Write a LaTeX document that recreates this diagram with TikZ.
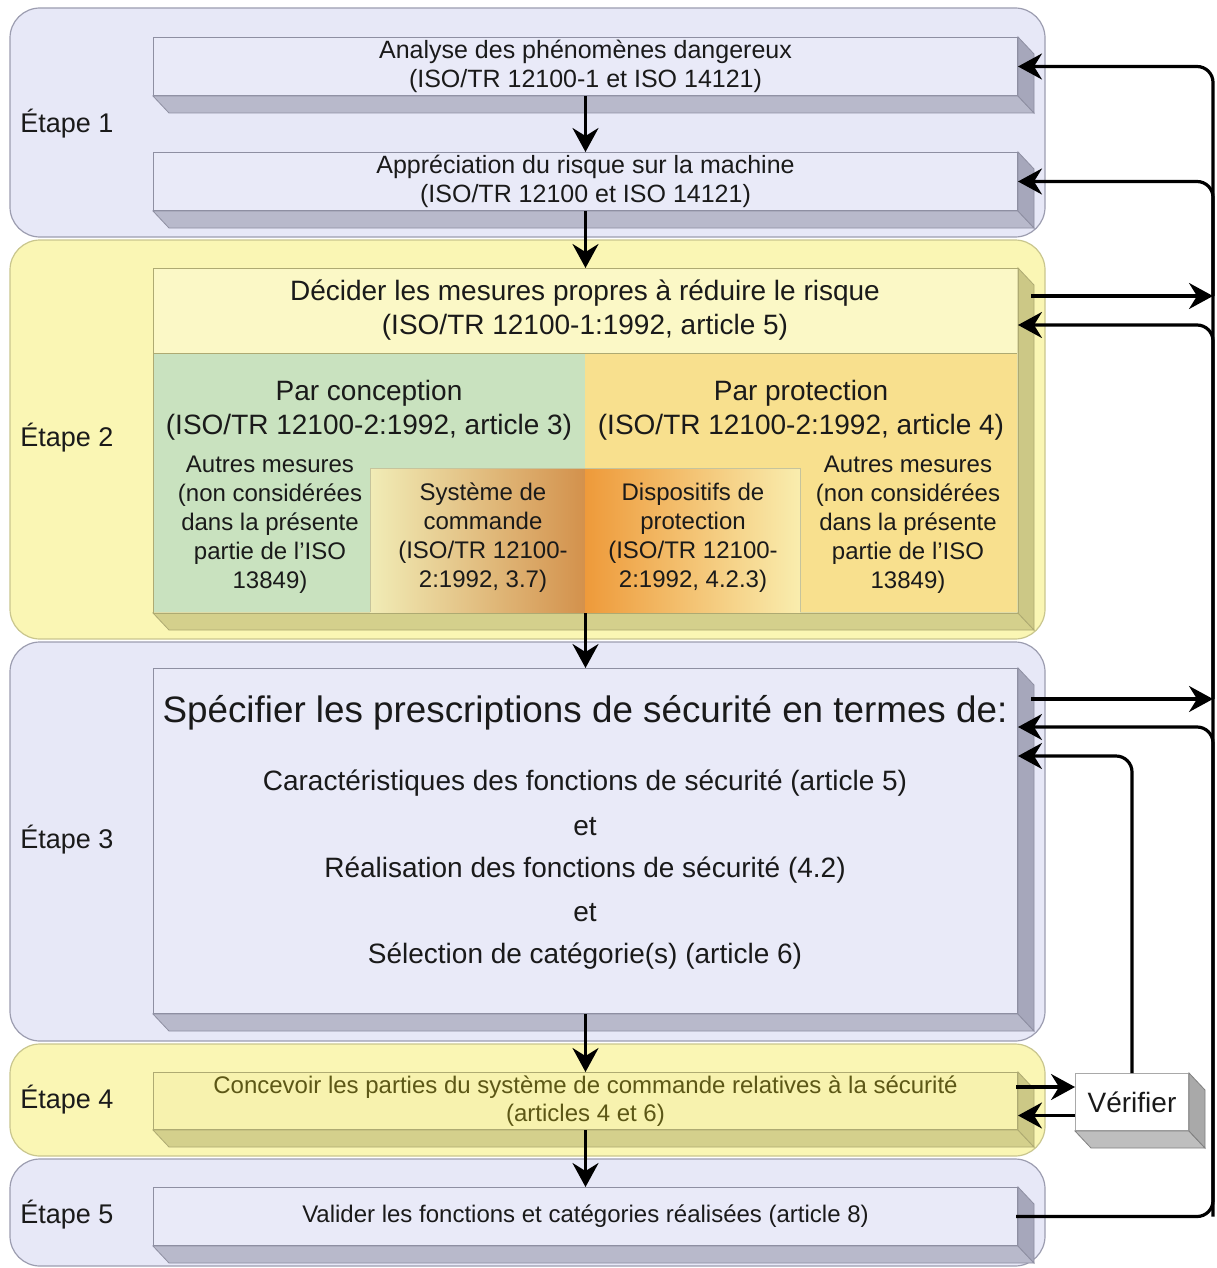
\documentclass[tikz,border=0pt]{standalone}
\usepackage{fontspec}
\setmainfont{Liberation Sans}
\usetikzlibrary{arrows.meta,calc}

\definecolor{lavfill}{HTML}{E7E8F7}
\definecolor{lavline}{HTML}{9C9DB0}
\definecolor{yelfill}{HTML}{FAF6B4}
\definecolor{yelline}{HTML}{C9C68E}
\definecolor{bluefront}{HTML}{E9EAF8}
\definecolor{bluebottom}{HTML}{B8B9CB}
\definecolor{blueside}{HTML}{A6A7BB}
\definecolor{blueedge}{HTML}{8E8FA2}
\definecolor{creamfront}{HTML}{FBF8C6}
\definecolor{olivebottom}{HTML}{D4D08C}
\definecolor{oliveside}{HTML}{CCC886}
\definecolor{oliveedge}{HTML}{AEAA72}
\definecolor{paleyel}{HTML}{F7F2AE}
\definecolor{greenpart}{HTML}{C9E2BF}
\definecolor{goldpart}{HTML}{F8E08E}
\definecolor{shadeleft}{HTML}{F1ECB6}
\definecolor{shademid}{HTML}{D3914C}
\definecolor{shadeorange}{HTML}{EE9A3A}
\definecolor{shaderight}{HTML}{F9EDAE}
\definecolor{greybottom}{HTML}{BEBEBE}
\definecolor{greyside}{HTML}{A9A9A9}
\definecolor{inktext}{HTML}{1A1A1A}
\definecolor{olivetext}{HTML}{5C5716}

\tikzset{
  panel/.style={rounded corners=15pt, line width=0.6pt},
  bluepanel/.style={panel, fill=lavfill, draw=lavline},
  yelpanel/.style={panel, fill=yelfill, draw=yelline},
  face/.style={anchor=north west, inner sep=0pt, align=center, text=inktext,
    line width=0.5pt, minimum width=432pt},
  blueface/.style={face, fill=bluefront, draw=blueedge},
  stagelabel/.style={anchor=west, inner sep=0pt, text=inktext,
    font=\fontsize{13.5}{16}\selectfont},
  txt/.style={inner sep=0pt, align=center, text=inktext},
  arr/.style={line width=1.6pt, -{Stealth[length=12pt,width=13pt,inset=4pt]}},
}

% extruded bottom and right faces of a box node
\newcommand\extrude[4]{%
  \filldraw[fill=#2, draw=#4, line width=0.4pt]
    (#1.south west) -- ++(8pt,-8.5pt) -- ($(#1.south east)+(8pt,-8.5pt)$)
    -- (#1.south east) -- cycle;
  \filldraw[fill=#3, draw=#4, line width=0.4pt]
    (#1.north east) -- ++(8pt,-8.5pt) -- ($(#1.south east)+(8pt,-8.5pt)$)
    -- (#1.south east) -- cycle;
}

\begin{document}
\begin{tikzpicture}[x=0.5pt,y=-0.5pt]
\useasboundingbox (0,0) rectangle (1216,1268);

% stage panels
\draw[bluepanel] (10,8) rectangle (1045,237);
\draw[yelpanel]  (10,240) rectangle (1045,639);
\draw[bluepanel] (10,642) rectangle (1045,1041);
\draw[yelpanel]  (10,1044) rectangle (1045,1156);
\draw[bluepanel] (10,1159) rectangle (1045,1266);

% stage labels
\node[stagelabel] (s1) at (20,124)  {Étape 1};
\node[stagelabel] (s2) at (20,438)  {Étape 2};
\node[stagelabel] (s3) at (20,840)  {Étape 3};
\node[stagelabel] (s4) at (20,1100) {Étape 4};
\node[stagelabel] (s5) at (20,1215) {Étape 5};

% stage 1
\node[blueface, minimum height=29pt, font=\fontsize{12.5}{14.5}\selectfont]
  (A) at (153,37) {Analyse des phénomènes dangereux\\(ISO/TR 12100-1 et ISO 14121)};
\extrude{A}{bluebottom}{blueside}{blueedge}
\node[blueface, minimum height=29pt, font=\fontsize{12.5}{14.5}\selectfont]
  (B) at (153,152) {Appréciation du risque sur la machine\\(ISO/TR 12100 et ISO 14121)};
\extrude{B}{bluebottom}{blueside}{blueedge}

% stage 2
\node[face, fill=creamfront, minimum height=172pt] (C) at (153,268) {};
\extrude{C}{olivebottom}{oliveside}{oliveedge}
\fill[greenpart] (153,353) rectangle (585,612);
\fill[goldpart] (585,353) rectangle (1017,612);
\shade[left color=shadeleft, right color=shademid] (370,468) rectangle (585,612);
\shade[left color=shadeorange, right color=shaderight] (585,468) rectangle (800,612);
\draw[oliveedge!70, line width=0.5pt] (370,612) -- (370,468) -- (800,468) -- (800,612);
\draw[oliveedge, line width=0.5pt] (153,353) -- (1017,353);
\draw[oliveedge, line width=0.5pt] (C.north west) rectangle (C.south east);

\node[txt, font=\fontsize{14}{17}\selectfont] (Ct) at (585,310)
  {Décider les mesures propres à réduire le risque\\(ISO/TR 12100-1:1992, article 5)};
\node[txt, font=\fontsize{14}{17}\selectfont] (Cl) at (369,410)
  {Par conception\\(ISO/TR 12100-2:1992, article 3)};
\node[txt, font=\fontsize{14}{17}\selectfont] (Cr) at (801,410)
  {Par protection\\(ISO/TR 12100-2:1992, article 4)};
\node[txt, font=\fontsize{12}{14.5}\selectfont] (Ol) at (270,525)
  {Autres mesures\\(non considérées\\dans la présente\\partie de l’ISO\\13849)};
\node[txt, font=\fontsize{12}{14.5}\selectfont] (Or) at (908,525)
  {Autres mesures\\(non considérées\\dans la présente\\partie de l’ISO\\13849)};
\node[txt, font=\fontsize{12}{14.5}\selectfont] (Sc) at (483,538)
  {Système de\\commande\\(ISO/TR 12100-\\2:1992, 3.7)};
\node[txt, font=\fontsize{12}{14.5}\selectfont] (Dp) at (693,538)
  {Dispositifs de\\protection\\(ISO/TR 12100-\\2:1992, 4.2.3)};

% stage 3
\node[blueface, minimum height=172.5pt] (D) at (153,668) {};
\extrude{D}{bluebottom}{blueside}{blueedge}
\node[txt, font=\fontsize{18.4}{22}\selectfont] (D0) at (585,713)
  {Spécifier les prescriptions de sécurité en termes de:};
\node[txt, font=\fontsize{14}{17}\selectfont] (D1) at (585,783)
  {Caractéristiques des fonctions de sécurité (article 5)};
\node[txt, font=\fontsize{14}{17}\selectfont] (D2) at (585,827) {et};
\node[txt, font=\fontsize{14}{17}\selectfont] (D3) at (585,870)
  {Réalisation des fonctions de sécurité (4.2)};
\node[txt, font=\fontsize{14}{17}\selectfont] (D4) at (585,913) {et};
\node[txt, font=\fontsize{14}{17}\selectfont] (D5) at (585,956)
  {Sélection de catégorie(s) (article 6)};

% stage 4
\node[face, fill=paleyel, draw=oliveedge, minimum height=28.5pt, text=olivetext,
  font=\fontsize{12}{14}\selectfont] (E) at (153,1072)
  {Concevoir les parties du système de commande relatives à la sécurité\\(articles 4 et 6)};
\extrude{E}{olivebottom}{oliveside}{oliveedge}

% verification box
\node[face, fill=white, draw=greyside, minimum width=56.5pt, minimum height=28.5pt,
  font=\fontsize{14}{17}\selectfont] (V) at (1075,1073) {Vérifier};
\extrude{V}{greybottom}{greyside}{gray}

% stage 5
\node[blueface, minimum height=29pt, font=\fontsize{12}{14}\selectfont]
  (F) at (153,1187) {Valider les fonctions et catégories réalisées (article 8)};
\extrude{F}{bluebottom}{blueside}{blueedge}

% main flow
\draw[arr] (A.south) -- (B.north);
\draw[arr] (B.south) -- (C.north);
\draw[arr] (C.south) -- (D.north);
\draw[arr] (D.south) -- (E.north);
\draw[arr] (E.south) -- (F.north);

% feedback connectors
\coordinate (bus) at (1213,0);
\coordinate (Cout) at ($(C.north east)+(13,28)$);
\coordinate (Cin)  at ($(C.north east)+(0,57)$);
\coordinate (Dout) at ($(D.north east)+(13,31)$);
\coordinate (Din)  at ($(D.north east)+(0,59)$);
\coordinate (Dver) at ($(D.north east)+(0,88)$);
\coordinate (Eout) at ($(E.east)+(-2,-14)$);
\coordinate (Ein)  at ($(E.east)+(0,14.5)$);
\coordinate (Fout) at ($(F.east)+(-2,0)$);

\draw[arr, rounded corners=8pt] (Fout) -- (bus |- Fout) -- (bus |- A.east) -- (A.east);
\draw[arr, rounded corners=8pt] (bus |- Cout) -- (bus |- B.east) -- (B.east);
\draw[arr, rounded corners=8pt] (bus |- Dout) -- (bus |- Cin) -- (Cin);
\draw[arr, rounded corners=8pt] (bus |- Fout) -- (bus |- Din) -- (Din);
\draw[arr] (Cout) -- (bus |- Cout);
\draw[arr] (Dout) -- (bus |- Dout);
\draw[arr, rounded corners=8pt] (V.north) -- (V.north |- Dver) -- (Dver);
\draw[arr] (Eout) -- (V.west |- Eout);
\draw[arr] (V.west |- Ein) -- (Ein);

\end{tikzpicture}
\end{document}
